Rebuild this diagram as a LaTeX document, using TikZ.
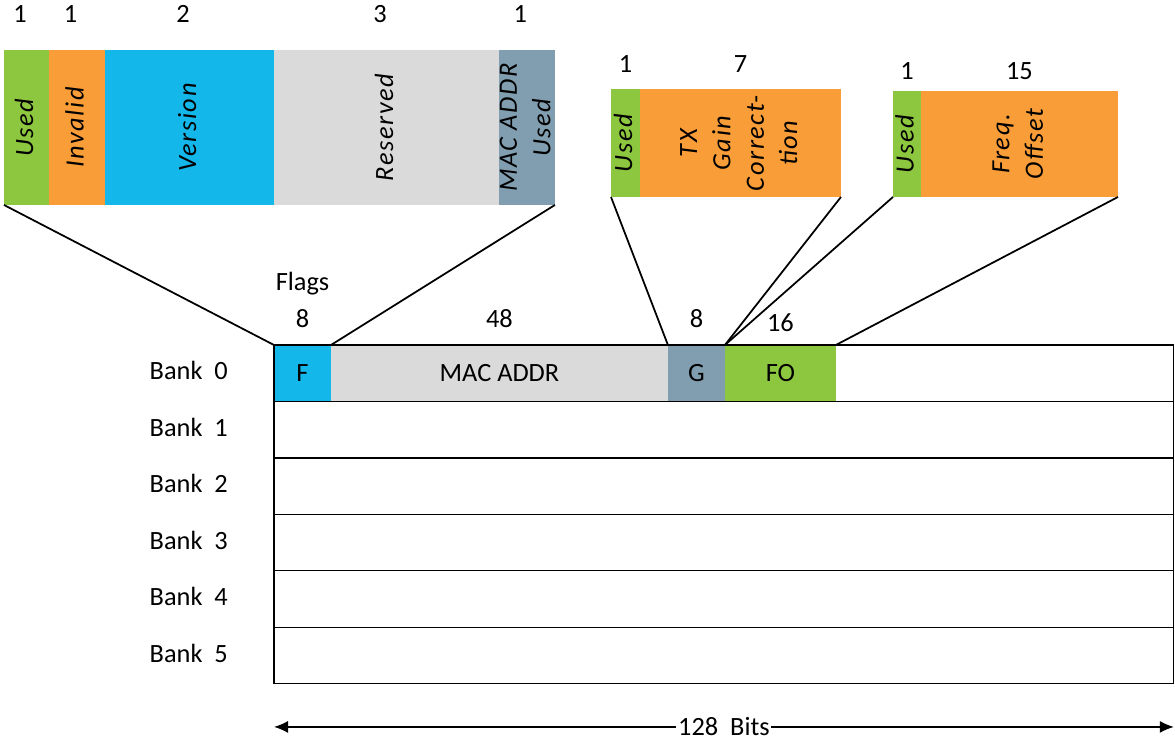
\documentclass[tikz,border=0pt]{standalone}
\usepackage{fontspec}
\setmainfont{Carlito}
\usetikzlibrary{arrows.meta,positioning}
\definecolor{fgreen}{HTML}{8DC63F}
\definecolor{forange}{HTML}{F99D39}
\definecolor{fblue}{HTML}{14B7EA}
\definecolor{fgray}{HTML}{DADADA}
\definecolor{fslate}{HTML}{809EB0}
\newcommand{\vtext}[1]{\makebox[0pt]{\rotatebox{90}{\itshape\addfontfeatures{LetterSpace=6}\begin{tabular}{@{}c@{}}#1\end{tabular}}}}

\begin{document}
\begin{tikzpicture}[
      x=0.02cm, y=-0.02cm,
      font=\fontsize{15}{19}\selectfont,
      field/.style={inner sep=0pt, outer sep=0pt, align=center},
      bankrow/.style={draw, line width=0.6pt, inner sep=0pt, outer sep=0pt,
        minimum width=18cm, minimum height=1.13cm},
      link/.style={line width=1pt},
      dim/.style={{Latex[length=0.28cm,width=0.24cm]}-{Latex[length=0.28cm,width=0.24cm]}, line width=0.8pt}
    ]
      \useasboundingbox (0,0) rectangle (1175,740);

      % flags field
      \node[field, fill=fgreen, minimum width=0.9cm, minimum height=3.1cm, anchor=north west] (used) at (4,50) {\vtext{Used}};
      \node[field, fill=forange, minimum width=1.12cm, minimum height=3.1cm, right=0pt of used] (inval) {\vtext{Invalid}};
      \node[field, fill=fblue, minimum width=3.38cm, minimum height=3.1cm, right=0pt of inval] (vers) {\vtext{Version}};
      \node[field, fill=fgray, minimum width=4.5cm, minimum height=3.1cm, right=0pt of vers] (resv) {\vtext{Reserved}};
      \node[field, fill=fslate, minimum width=1.12cm, minimum height=3.1cm, right=0pt of resv] (mused) {\vtext{MAC ADDR\\Used}};
      \foreach \n/\b in {used/1, inval/1, vers/2, resv/3, mused/1}
        \node (n\n) at ([xshift=-0.13cm, yshift=0.72cm]\n.north) {\b};

      % gain field
      \node[field, fill=fgreen, minimum width=0.58cm, minimum height=2.16cm, anchor=north west] (gused) at (611,89) {\vtext{Used}};
      \node[field, fill=forange, minimum width=4.02cm, minimum height=2.16cm, right=0pt of gused] (gain) {\vtext{TX\\Gain\\Correct-\\tion}};
      \node (ngused) at ([yshift=0.5cm]gused.north) {1};
      \node (ngain) at ([yshift=0.5cm]gain.north) {7};

      % frequency offset field
      \node[field, fill=fgreen, minimum width=0.56cm, minimum height=2.12cm, anchor=north west] (oused) at (893,91) {\vtext{Used}};
      \node[field, fill=forange, minimum width=3.94cm, minimum height=2.12cm, right=0pt of oused] (freq) {\vtext{Freq.\\Offset}};
      \node (noused) at ([yshift=0.4cm]oused.north) {1};
      \node (nfreq) at ([yshift=0.4cm]freq.north) {15};

      % bank 0 contents
      \node[field, fill=fblue, minimum width=1.14cm, minimum height=1.13cm, anchor=north west] (f) at (274,345) {F};
      \node[field, fill=fgray, minimum width=6.74cm, minimum height=1.13cm, right=0pt of f] (mac) {MAC ADDR};
      \node[field, fill=fslate, minimum width=1.14cm, minimum height=1.13cm, right=0pt of mac] (g) {G};
      \node[field, fill=fgreen, minimum width=2.22cm, minimum height=1.13cm, right=0pt of g] (fo) {FO};
      \node (nf) at ([yshift=0.52cm]f.north) {8};
      \node (flags) at ([yshift=1.22cm]f.north) {Flags};
      \node (nmac) at ([yshift=0.52cm]mac.north) {48};
      \node (ng) at ([yshift=0.52cm]g.north) {8};
      \node (nfo) at ([yshift=0.44cm]fo.north) {16};

      % banks
      \node[bankrow, anchor=north west] (bank0) at (274,345) {};
      \foreach \i [remember=\i as \j (initially 0)] in {1,...,5}
        \node[bankrow, below=0pt of bank\j] (bank\i) {};
      \foreach \i in {0,...,5}
        \node[left=0.8cm of bank\i.west, yshift=0.05cm] (lbl\i) {Bank\ \ \i};

      \draw[link] (used.south west) -- (f.north west);
      \draw[link] (mused.south east) -- (f.north east);
      \draw[link] (gused.south west) -- (g.north west);
      \draw[link] (gain.south east) -- (g.north east);
      \draw[link] (oused.south west) -- (g.north east);
      \draw[link] (freq.south east) -- (fo.north east);

      \coordinate (al) at ([yshift=-0.86cm]bank5.south west);
      \coordinate (ar) at ([yshift=-0.86cm]bank5.south east);
      \draw[dim] (al) -- node[fill=white, inner sep=1pt] (bits) {128\ \ Bits} (ar);
    \end{tikzpicture}
\end{document}
